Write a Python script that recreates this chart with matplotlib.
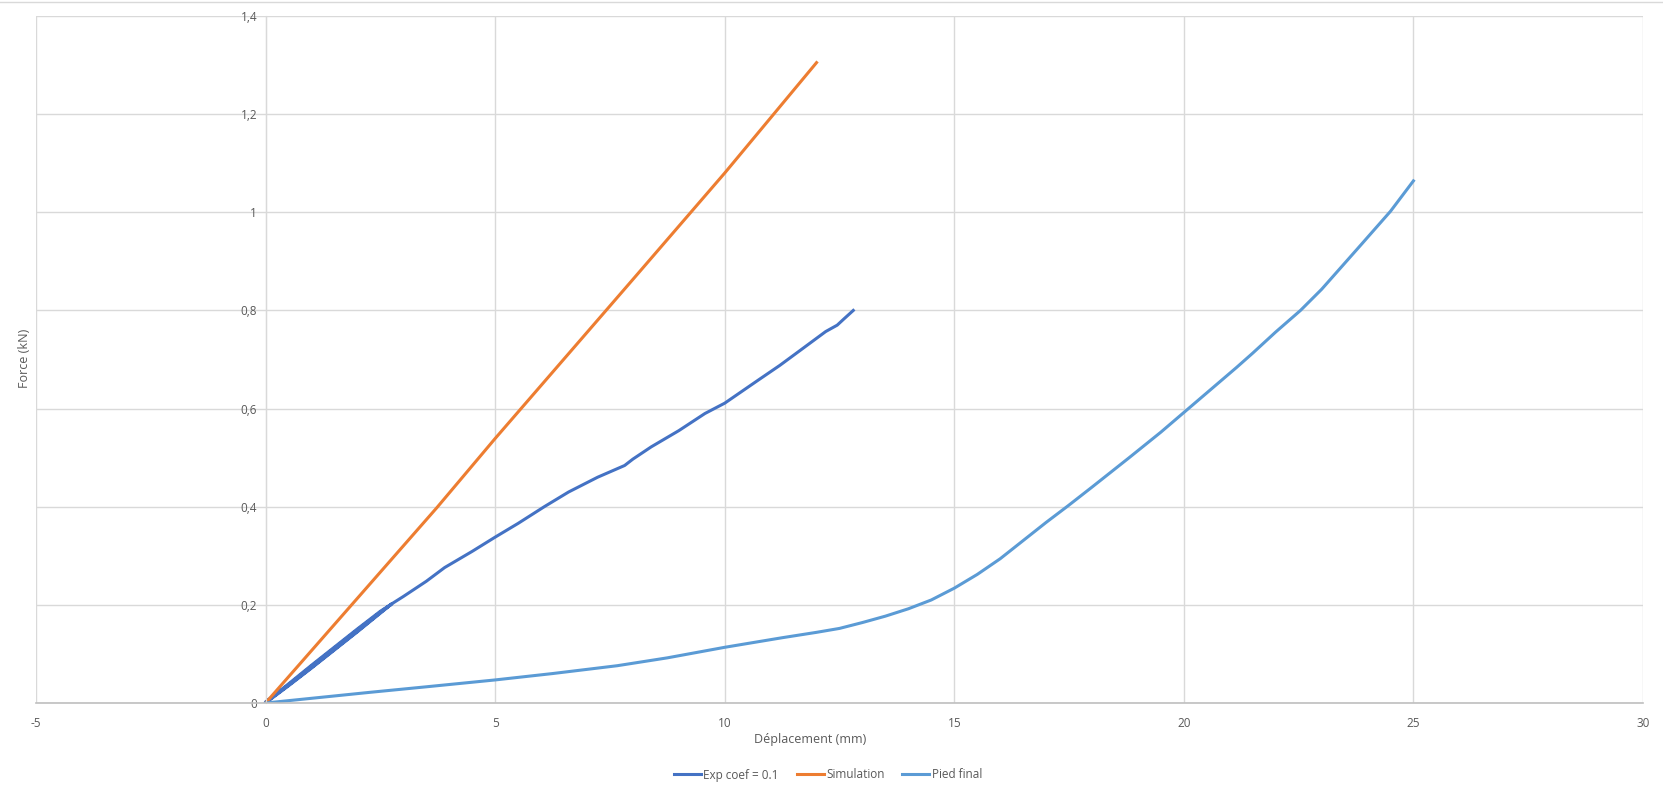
import matplotlib
matplotlib.use("Agg")
import matplotlib.pyplot as plt
from matplotlib.lines import Line2D
from matplotlib.ticker import FuncFormatter

# Exp coef = 0.1 : loading/unloading cycles up to ~2.75 mm, then the final ramp
exp_x = [0, 0.5, 1.0, 1.5, 2.0, 2.5, 2.75,
         2.5, 2.0, 1.5, 1.0, 0.5, 0.0,
         0.5, 1.0, 1.5, 2.0, 2.5, 2.72,
         2.5, 2.0, 1.5, 1.0, 0.5, 0.0,
         0.5, 1.0, 1.5, 2.0, 2.5, 2.73,
         3.0, 3.5, 3.9, 4.5, 5.0, 5.5, 6.07, 6.6, 7.23, 7.82, 8.0, 8.4, 9.0, 9.57, 10.0,
         10.73, 11.2, 11.65, 12.2, 12.45, 12.6, 12.8]
exp_y = [0, 0.035, 0.071, 0.108, 0.145, 0.183, 0.202,
         0.187, 0.151, 0.114, 0.077, 0.039, 0.002,
         0.037, 0.073, 0.110, 0.147, 0.185, 0.200,
         0.185, 0.149, 0.112, 0.075, 0.037, 0.001,
         0.036, 0.072, 0.109, 0.146, 0.184, 0.201,
         0.217, 0.248, 0.276, 0.309, 0.338, 0.366, 0.400, 0.430, 0.460, 0.484, 0.497, 0.522,
         0.555, 0.590, 0.611, 0.658, 0.688, 0.719, 0.757, 0.770, 0.783, 0.800]

sim_x = [0, 3.73, 5.0, 7.98, 10.0, 12.0]
sim_y = [0, 0.398, 0.539, 0.861, 1.08, 1.305]

pied_x = [0, 2.3, 3.5, 5.0, 6.25, 7.66, 8.75, 10.0, 11.25, 12.0, 12.5, 13.0, 13.5,
          14.0, 14.5, 15.0, 15.5, 16.0, 16.5, 17.0, 17.48, 18.0, 18.81, 19.5, 20.0,
          20.5, 21.15, 21.5, 22.0, 22.54, 23.0, 23.87, 24.5, 25.0]
pied_y = [0, 0.022, 0.033, 0.047, 0.060, 0.076, 0.092, 0.1135, 0.133, 0.144, 0.152,
          0.164, 0.177, 0.192, 0.210, 0.234, 0.262, 0.294, 0.331, 0.368, 0.402,
          0.440, 0.500, 0.552, 0.592, 0.632, 0.684, 0.713, 0.756, 0.800, 0.843,
          0.935, 1.002, 1.064]

x_ticks = [-5, 0, 5, 10, 15, 20, 25, 30]
y_ticks = [0, 0.2, 0.4, 0.6, 0.8, 1.0, 1.2, 1.4]

W, H = 1663, 795
fig = plt.figure(figsize=(W / 100, H / 100), dpi=100)
plt.rcParams["font.family"] = ["Open Sans", "DejaVu Sans"]

left, right, bottom, top = 36, 1643, 703, 16
ax = fig.add_axes([left / W, 1 - bottom / H, (right - left) / W, (bottom - top) / H])

ax.plot(exp_x, exp_y, color="#4472C4", lw=2.2, label="Exp coef = 0.1", solid_joinstyle="round")
ax.plot(sim_x, sim_y, color="#ED7D31", lw=2.2, label="Simulation")
ax.plot(pied_x, pied_y, color="#5B9BD5", lw=2.2, label="Pied final", solid_joinstyle="round")

ax.set_xlim(-5, 30)
ax.set_ylim(0, 1.4)
ax.set_xticks(x_ticks)
ax.set_yticks(y_ticks)
ax.grid(True, color="#D9D9D9", lw=1)
ax.set_axisbelow(True)

for s in ["top", "right"]:
    ax.spines[s].set_visible(False)
ax.spines["left"].set_position(("data", 0))
ax.spines["left"].set_color("#D9D9D9")
ax.spines["bottom"].set_color("#BFBFBF")
ax.spines["bottom"].set_linewidth(1.2)

fmt = FuncFormatter(lambda v, p: f"{v:g}".replace(".", ","))
ax.yaxis.set_major_formatter(fmt)
ax.xaxis.set_major_formatter(fmt)
ax.tick_params(length=0, labelsize=8.5, labelcolor="#595959")
ax.tick_params(axis="x", pad=10)
ax.tick_params(axis="y", pad=6)

fig.text(25 / W, 1 - 358 / H, "Force (kN)", rotation=90, ha="center", va="center",
         fontsize=9, color="#595959")
fig.text(810 / W, 1 - 739 / H, "Déplacement (mm)", ha="center", va="center",
         fontsize=9, color="#595959")

fig.legend(loc="center", bbox_to_anchor=(828 / W, 1 - 775 / H), ncol=3, frameon=False,
           fontsize=8.5, handlelength=2.3, handletextpad=0.2, columnspacing=1.5,
           labelcolor="#595959")

fig.add_artist(Line2D([0, 1], [1 - 2 / H, 1 - 2 / H], color="#D9D9D9", lw=1,
                      transform=fig.transFigure))

fig.savefig("out.png", dpi=100)
